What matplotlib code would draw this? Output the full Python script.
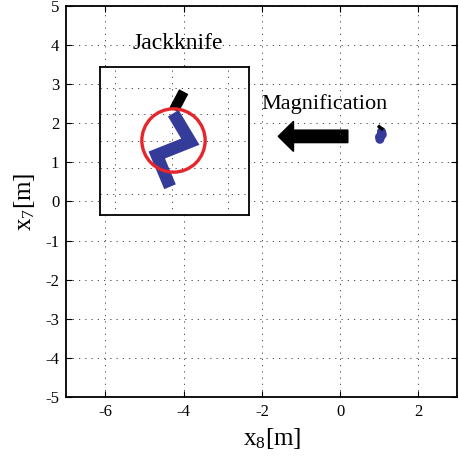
import numpy as np
import matplotlib
matplotlib.use("Agg")
import matplotlib.pyplot as plt

plt.rcParams['font.family'] = ['Liberation Serif', 'DejaVu Serif']
plt.rcParams['mathtext.fontset'] = 'custom'
plt.rcParams['mathtext.rm'] = 'Liberation Serif'
plt.rcParams['axes.unicode_minus'] = False

# vehicle footprint seen at full scale (x8, x7 in metres)
cab_x = [0.97, 1.10]
cab_y = [1.94, 1.83]
trailer_x = [1.06, 1.08, 1.01, 1.02]
trailer_y = [1.79, 1.71, 1.65, 1.59]

# magnified view of the same vehicle (local units of the zoom panel)
zoom_cab_x = [0.213, 0.041]
zoom_cab_y = [1.86, 1.17]
zoom_trailer_x = [0.028, 0.33, -0.266, -0.030]
zoom_trailer_y = [1.045, -0.026, -0.528, -1.725]
hitch_xy = (0.03, 0.04)

xticks = [-6, -4, -2, 0, 2]
yticks = [-5, -4, -3, -2, -1, 0, 1, 2, 3, 4, 5]
zoom_xticks = [-1, 0, 1]
zoom_yticks = [-2, -1, 0, 1, 2]

blue = '#343b98'
red = '#e5262c'
dots = (0, (1.5, 6))

fig = plt.figure(figsize=(4.59, 4.57), dpi=100)
ax = fig.add_axes([0.1444, 0.1313, 0.852, 0.8556])

ax.set_xlim(-7, 3)
ax.set_ylim(-5, 5)
ax.set_xticks(xticks)
ax.set_yticks(yticks)
ax.tick_params(direction='in', length=4, width=0.8, labelsize=12,
               top=True, right=True, pad=5)
ax.grid(True, color='0.2', linewidth=0.6, linestyle=dots)
for s in ax.spines.values():
    s.set_linewidth(1.3)

ax.plot(trailer_x, trailer_y, color=blue, lw=6.5, solid_capstyle='round',
        solid_joinstyle='round')
ax.plot(cab_x, cab_y, color='black', lw=2.4, solid_capstyle='butt')

ax.arrow(0.2, 1.666, -1.78, 0, width=0.32, head_width=0.77, head_length=0.39,
         length_includes_head=True, color='black')

ax.text(-4.15, 3.9, 'Jackknife', fontsize=17, ha='center', va='baseline')
ax.text(-2.01, 2.37, 'Magnification', fontsize=16, ha='left', va='baseline')

ax.set_xlabel(r'x$\mathregular{_8}$[m]', fontsize=18)
ax.set_ylabel(r'x$\mathregular{_7}$[m]', fontsize=18)
ax.xaxis.set_label_coords(0.526, -0.075)
ax.yaxis.set_label_coords(-0.075, 0.5)

# zoom panel
ins = fig.add_axes([0.2179, 0.5295, 0.3246, 0.3239])
ins.set_xlim(-1.274, 1.373)
ins.set_ylim(-2.79, 2.79)
ins.set_xticks(zoom_xticks)
ins.set_yticks(zoom_yticks)
ins.tick_params(length=0, labelbottom=False, labelleft=False)
ins.grid(True, color='0.2', linewidth=0.6, linestyle=dots)
for s in ins.spines.values():
    s.set_linewidth(1.3)

ins.plot(zoom_cab_x, zoom_cab_y, color='black', lw=7.5, solid_capstyle='butt')
ins.plot(zoom_trailer_x, zoom_trailer_y, color=blue, lw=9,
         solid_capstyle='butt', solid_joinstyle='miter')
ins.plot(*hitch_xy, 'o', ms=45.6, mfc='none', mec=red, mew=2.4)

fig.savefig('out.png', dpi=100)
